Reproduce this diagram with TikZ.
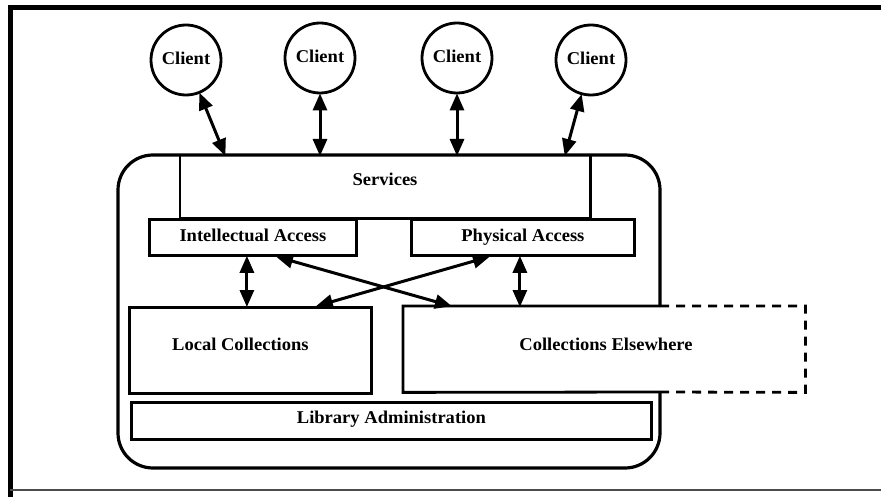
\documentclass[tikz,border=0pt]{standalone}
\usepackage{fontspec}
\setmainfont{Liberation Serif}[FakeStretch=1.03]
\usetikzlibrary{arrows.meta,calc}
\begin{document}
\begin{tikzpicture}[x=1pt,y=-1pt,
  every node/.style={font=\bfseries\fontsize{18}{20}\selectfont, inner sep=0pt},
  lbl/.style={anchor=base},
  box/.style={draw, line width=2.8pt},
  client/.style={draw, circle, line width=2.8pt, minimum size=70pt},
  link/.style={line width=3pt, {Triangle[length=17pt,width=14pt]}-{Triangle[length=17pt,width=14pt]}, shorten <=-1pt, shorten >=-1pt},
  frameline/.style={line width=5pt, line cap=rect}
]
\useasboundingbox (0,0) rectangle (881,497);

% page frame
\draw[frameline] (10,497) -- (10,8) -- (881,8);
\draw[line width=1.6pt, black!70] (10,490) -- (881,490);

% outer rounded enclosure, broken on the right by the remote collections
\draw[line width=3.2pt, rounded corners=35pt]
  (660,306) -- (660,155) -- (118,155) -- (118,468) -- (660,468) -- (660,392);

% services layer
\node[minimum width=410pt, minimum height=63pt, anchor=north west] (srv) at (180,155) {};
\draw[box] (srv.north west) -- (srv.south west) -- (srv.south east) -- (srv.north east);
\node[lbl] at (385,186) {Services};

% access layer
\node[box, minimum width=207pt, minimum height=36pt, anchor=north west] (ia) at (148,218) {};
\node[lbl] at (ia.center |- 0,242) {Intellectual Access};
\node[box, minimum width=223pt, minimum height=36pt, anchor=north west] (pa) at (410,218) {};
\node[lbl] at (pa.center |- 0,242) {Physical Access};

% collections
\node[box, minimum width=242pt, minimum height=86pt, anchor=north west] (lc) at (128,306) {};
\node[lbl] at ($(lc.center |- 0,350)+(-10,0)$) {Local Collections};

\node[minimum width=402pt, minimum height=86pt, anchor=north west] (ce) at (403,306) {};
\draw[box] (660,306) -- (ce.north west) -- (ce.south west) -- (660,392);
\draw[box, dash pattern=on 9pt off 7pt] (660,306) -- (ce.north east) -- (ce.south east) -- (660,392);
\node[lbl] at (606,350) {Collections Elsewhere};

% administration
\node[box, minimum width=520pt, minimum height=37pt, anchor=north west] (adm) at (130,401) {};
\node[lbl] at (adm.center |- 0,423) {Library Administration};

% clients
\node[client] (c1) at (186,60) {};
\node[client] (c2) at (320,58) {};
\node[client] (c3) at (457,58) {};
\node[client] (c4) at (591,60) {};
\foreach \c in {c1,c2,c3,c4} \node[lbl] at ([yshift=-5pt]\c.center) {Client};

\coordinate (s1) at (225,155);
\coordinate (s4) at (565,155);
\draw[link] (c1) -- (s1);
\draw[link] (c2) -- (c2 |- srv.north);
\draw[link] (c3) -- (c3 |- srv.north);
\draw[link] (c4) -- (s4);

% access to collections
\draw[link] ([xshift=-6pt]ia.south) -- ([xshift=-6pt]ia.south |- lc.north);
\draw[link] ([xshift=-3pt]pa.south) -- ([xshift=-3pt]pa.south |- ce.north);
\draw[link] ([xshift=24pt]ia.south) -- ([xshift=48pt]ce.north west);
\draw[link] ([xshift=-34pt]pa.south) -- ([xshift=-56pt]lc.north east);
\end{tikzpicture}
\end{document}
